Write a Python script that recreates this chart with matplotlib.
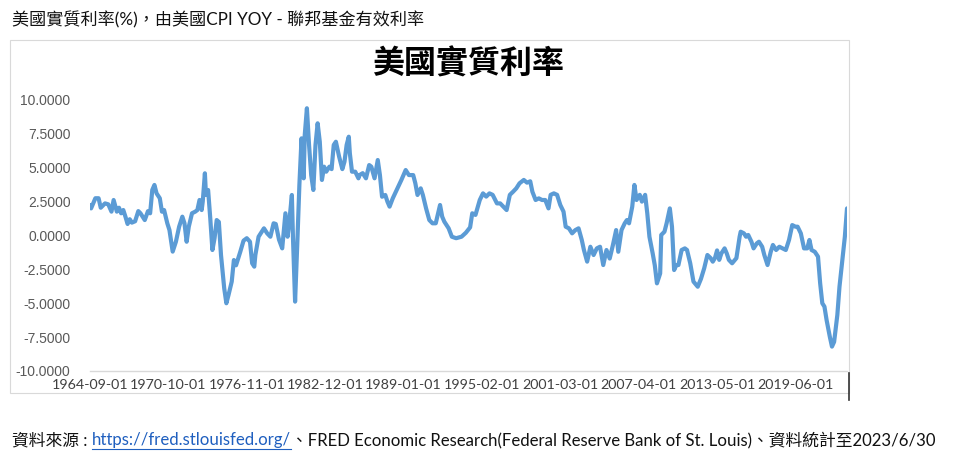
import numpy as np
import pandas as pd
import matplotlib
matplotlib.use("Agg")
import matplotlib.pyplot as plt
from matplotlib.patches import Rectangle
from matplotlib.lines import Line2D

### Data: US real rate (Fed funds - CPI YoY), read off the picture
### month = months since 1964-09-01
month = [0, 1, 5, 8, 10, 14, 17, 20, 22, 25, 27, 29, 31, 33, 35, 37, 39, 42, 45, 47,
         51, 54, 56, 58, 60, 62, 65, 67, 69, 72, 74, 77, 80, 83, 86, 88, 90, 92, 95, 98,
         100, 102, 104, 105, 107, 108, 110, 112, 114, 116, 118, 120, 122, 125, 127, 129, 132, 134, 136, 138,
         140, 143, 146, 149, 151, 153, 154, 157, 160, 162, 165, 168, 171, 173, 176, 179, 182, 184, 185, 188,
         189, 191, 193, 195, 197, 199, 200, 202, 204, 206, 208, 210, 212, 214, 216, 218, 220, 223, 225, 227,
         229, 232, 235, 237, 239, 241, 242, 244, 247, 250, 251, 254, 257, 260, 262, 265, 268, 270, 272, 275,
         277, 279, 282, 287, 290, 294, 297, 301, 303, 305, 308, 310, 313, 316, 319, 322, 326, 328, 330, 334,
         337, 341, 346, 350, 354, 356, 359, 363, 366, 369, 372, 375, 379, 382, 385, 388, 391, 394, 397, 400,
         404, 407, 410, 412, 415, 418, 421, 424, 427, 429, 432, 435, 438, 441, 443, 446, 449, 452, 455, 458,
         460, 463, 466, 469, 472, 475, 478, 481, 484, 487, 490, 492, 495, 498, 500, 502, 505, 507, 509, 512,
         514, 517, 519, 521, 524, 526, 528, 531, 532, 535, 537, 540, 542, 544, 546, 548, 551, 554, 556, 559,
         562, 566, 569, 572, 575, 578, 580, 582, 584, 586, 588, 591, 593, 595, 598, 602, 605, 606, 609, 611,
         613, 616, 618, 621, 623, 626, 628, 631, 634, 636, 639, 642, 645, 648, 651, 654, 657, 659, 662, 665,
         668, 670, 672, 675, 678, 680, 682, 684, 686, 689, 691, 693, 696, 698, 700, 702, 703, 705]
real_rate = [2.25, 2.0, 2.75, 2.75, 2.05, 2.37, 2.3, 1.76, 2.62, 1.76, 2.05, 1.64, 1.88, 1.39, 0.85, 1.2, 0.95, 1.05, 1.8, 1.64,
             1.14, 1.8, 1.64, 3.36, 3.73, 3.11, 2.75, 1.76, 1.88, 0.9, 0.4, -1.19, -0.46, 0.65, 1.39, 0.9, -0.46, 0.65, 1.64, 1.76,
             1.88, 2.62, 1.88, 2.5, 4.59, 2.99, 3.36, 1.27, -1.07, -0.2, 1.14, 1.0, -1.44, -3.9, -5.0, -4.39, -3.4, -1.81, -2.2, -1.7,
             -1.19, -0.38, -0.2, -0.46, -2.05, -2.3, -1.44, -0.09, 0.28, 0.53, 0.16, -0.09, 0.9, 0.85, -0.3, -0.95, 1.64, -0.09, 0.53, 2.99,
             -0.09, -4.88, -0.7, 3.73, 7.17, 4.22, 7.42, 9.39, 6.68, 4.46, 3.36, 6.68, 8.28, 6.92, 4.1, 5.08, 4.71, 5.08, 4.9, 6.68,
             6.92, 5.82, 4.9, 5.45, 6.68, 7.29, 6.06, 4.71, 4.71, 4.22, 4.46, 4.6, 4.22, 5.2, 5.08, 4.22, 5.57, 4.46, 2.86, 2.99,
             2.5, 2.13, 2.75, 3.6, 4.1, 4.83, 4.46, 4.46, 3.85, 2.99, 3.48, 2.99, 2.0, 1.14, 0.9, 0.9, 2.25, 1.39, 1.02, 0.53,
             -0.09, -0.2, -0.09, 0.2, 0.6, 1.64, 1.52, 2.62, 3.11, 2.87, 3.11, 3.0, 2.37, 2.37, 2.13, 1.88, 3.0, 3.23, 3.48, 3.85,
             4.1, 3.9, 4.0, 3.23, 2.62, 2.74, 2.62, 2.62, 2.0, 3.0, 3.11, 3.0, 2.25, 1.76, 0.65, 0.53, 0.16, 0.4, 0.53, -0.33,
             -1.07, -1.93, -0.83, -1.44, -0.95, -0.83, -2.18, -1.07, -1.7, -0.7, 0.4, -1.2, 0.4, 0.9, 1.14, 0.9, 2.13, 3.73, 2.62, 3.0,
             2.5, 3.0, 1.64, -0.09, -1.31, -2.2, -3.53, -2.8, 0.04, 0.28, 0.9, 2.0, 0.65, -2.55, -2.18, -2.18, -1.07, -0.95, -1.07, -2.05,
             -3.4, -3.78, -3.2, -2.42, -1.44, -1.67, -1.93, -1.67, -1.1, -1.8, -1.32, -0.95, -1.32, -1.8, -2.05, -1.67, -0.09, 0.28, 0.16, -0.09,
             0.04, -0.46, -0.95, -0.58, -0.46, -0.83, -1.44, -2.18, -1.2, -0.7, -1.07, -0.83, -0.95, -1.07, -0.33, 0.77, 0.65, 0.65, 0.16, -0.95,
             -0.95, -0.33, -1.07, -1.2, -1.56, -3.53, -5.0, -5.25, -6.24, -7.47, -8.2, -7.85, -5.87, -3.78, -2.3, -0.83, -0.09, 2.0]

tick_dates = ["1964-09-01", "1970-10-01", "1976-11-01", "1982-12-01", "1989-01-01",
              "1995-02-01", "2001-03-01", "2007-04-01", "2013-05-01", "2019-06-01"]
yticks = [-10, -7.5, -5, -2.5, 0, 2.5, 5, 7.5, 10]

cjk = ['Lato', 'Noto Sans CJK TC', 'DejaVu Sans']

W, H = 959, 459
fig = plt.figure(figsize=(W / 100, H / 100), dpi=100)

### chart frame
fig.patches.append(Rectangle((10 / W, 1 - 393 / H), 839 / W, 353 / H, transform=fig.transFigure,
                             fill=False, edgecolor="#d9d9d9", lw=0.8))
fig.lines.append(Line2D([849 / W, 849 / W], [1 - 400 / H, 1 - 373 / H], transform=fig.transFigure,
                        color="#333333", lw=1.2))

ax = fig.add_axes([90 / W, 1 - 371 / H, 757 / W, 271 / H])
ax.plot(month, real_rate, color="#5B9BD5", lw=3.0, solid_joinstyle="round", solid_capstyle="round")

ax.set_xlim(0, 705)
ax.set_ylim(-10, 10)
ax.set_yticks(yticks)
ax.set_yticklabels(["%.4f" % v for v in yticks], fontfamily="Liberation Sans", fontsize=10, color="#595959")

tick_pos = []
for d in tick_dates:
    t = pd.Timestamp(d)
    tick_pos.append((t.year - 1964) * 12 + (t.month - 9))
ax.set_xticks(tick_pos)
ax.set_xticklabels(tick_dates, fontfamily="Lato", fontsize=10.3, color="#404040")
ax.tick_params(axis="y", length=0, pad=14)
ax.tick_params(axis="x", length=0, pad=5.5)

for s in ["top", "right", "left"]:
    ax.spines[s].set_visible(False)
ax.spines["bottom"].set_color("#d9d9d9")
ax.spines["bottom"].set_linewidth(1.0)
ax.patch.set_alpha(0)

### titles
fig.text(468 / W, 1 - 65 / H, "美國實質利率", ha="center", va="center", fontsize=23,
         fontweight="bold", family=['Noto Sans CJK TC'])
fig.text(12 / W, 1 - 20 / H, "美國實質利率(%)，由美國CPI YOY - 聯邦基金有效利率", ha="left", va="center",
         fontsize=12.3, family=cjk, color="#111111")

### source line with link
renderer = fig.canvas.get_renderer()
y_src = 1 - 440 / H
parts = [("資料來源 : ", "#111111"), ("https://fred.stlouisfed.org/", "#1f5fbf"),
         ("、FRED Economic Research(Federal Reserve Bank of St. Louis)、資料統計至2023/6/30", "#111111")]
x = 12
for txt, col in parts:
    t = fig.text(x / W, y_src, txt, ha="left", va="center", fontsize=12.1, family=cjk, color=col)
    bb = t.get_window_extent(renderer)
    if txt.startswith("http"):
        fig.lines.append(Line2D([bb.x0 / W, bb.x1 / W], [(bb.y0 - 1) / H, (bb.y0 - 1) / H],
                                transform=fig.transFigure, color=col, lw=0.8))
    x = bb.x1

fig.savefig("out.png", dpi=100)
